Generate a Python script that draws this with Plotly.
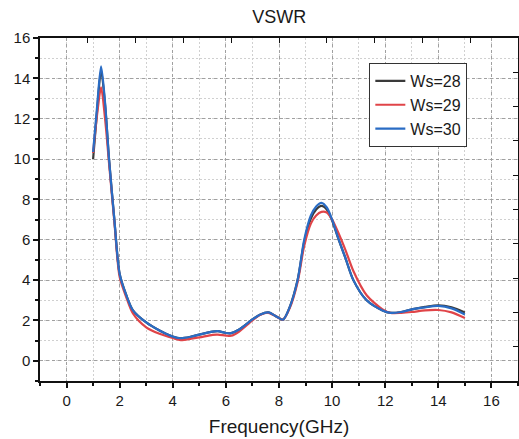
import plotly.graph_objects as go

freq = [1.0, 1.15, 1.3, 1.45, 1.6, 1.8, 2.0, 2.25, 2.5, 3.0, 3.5, 4.0, 4.3, 4.7, 5.0,
        5.5, 5.7, 6.0, 6.2, 6.5, 7.0, 7.3, 7.6, 7.9, 8.15, 8.4, 8.7, 8.95, 9.2, 9.4,
        9.6, 9.8, 10.0, 10.25, 10.5, 10.8, 11.3, 11.9, 12.2, 12.6, 13.0, 13.5, 14.0,
        14.5, 15.0]

ws28 = [10.0, 12.4, 14.4, 12.7, 10.0, 7.0, 4.3, 3.25, 2.5, 1.9, 1.5, 1.2, 1.12, 1.2, 1.3,
        1.45, 1.47, 1.38, 1.37, 1.55, 2.05, 2.3, 2.4, 2.2, 2.04, 2.65, 4.0, 5.9, 7.05, 7.5,
        7.68, 7.5, 6.95, 6.0, 5.1, 4.0, 3.0, 2.5, 2.38, 2.42, 2.55, 2.67, 2.75, 2.65, 2.4]

ws29 = [10.3, 12.2, 13.55, 12.0, 9.8, 6.9, 4.15, 3.15, 2.35, 1.66, 1.34, 1.13, 1.03, 1.1, 1.16,
        1.29, 1.3, 1.25, 1.24, 1.45, 2.0, 2.28, 2.38, 2.2, 2.04, 2.6, 3.9, 5.7, 6.8, 7.2,
        7.38, 7.35, 7.0, 6.3, 5.5, 4.45, 3.25, 2.55, 2.38, 2.38, 2.42, 2.5, 2.52, 2.4, 2.12]

ws30 = [10.35, 12.6, 14.6, 12.8, 10.0, 7.0, 4.3, 3.25, 2.5, 1.9, 1.5, 1.2, 1.12, 1.2, 1.3,
        1.45, 1.47, 1.38, 1.37, 1.55, 2.05, 2.3, 2.4, 2.2, 2.04, 2.65, 4.0, 6.0, 7.2, 7.65,
        7.83, 7.6, 7.0, 6.0, 5.1, 4.0, 3.0, 2.5, 2.38, 2.42, 2.55, 2.65, 2.72, 2.6, 2.3]

series = [("Ws=28", ws28, "#3a3a3a"), ("Ws=29", ws29, "#e04448"), ("Ws=30", ws30, "#2a6cc4")]

x_ticks = [0, 2, 4, 6, 8, 10, 12, 14, 16]
y_ticks = [0, 2, 4, 6, 8, 10, 12, 14, 16]

fig = go.Figure()
for name, vals, color in series:
    fig.add_trace(go.Scatter(x=freq, y=vals, name=name, mode="lines",
                             line=dict(color=color, width=2.2, shape="spline", smoothing=0.8)))

# dummy trace for top/right frame axes
fig.add_trace(go.Scatter(x=[], y=[], xaxis="x2", yaxis="y2", showlegend=False, hoverinfo="skip"))

font = "Arial, Liberation Sans, sans-serif"
grid_major = "#a0a0a0"
grid_minor = "#d0d0d0"

fig.update_layout(
    width=519, height=439,
    margin=dict(l=40, r=1, t=38, b=58, autoexpand=False),
    paper_bgcolor="white", plot_bgcolor="white",
    font=dict(family=font, color="#1a1a1a"),
    title=dict(text="VSWR", x=0.538, xanchor="center", y=0.962, yanchor="middle",
               font=dict(size=18, color="#1a1a1a"), automargin=False),
    showlegend=True,
    legend=dict(x=0.894, xanchor="right", y=0.927, yanchor="top",
                bgcolor="white", bordercolor="#333333", borderwidth=1,
                font=dict(size=16, color="#1a1a1a"), tracegroupgap=0,
                itemwidth=30),
    xaxis=dict(range=[-1, 17], tickvals=x_ticks, ticks="outside", ticklen=5, tickwidth=1.5,
               tickcolor="#111111", showline=True, linecolor="#111111", linewidth=1.5,
               showgrid=True, gridcolor=grid_major, griddash="3px,3px", gridwidth=1,
               zeroline=False, tickfont=dict(size=15), automargin=False,
               minor=dict(dtick=1, tick0=1, ticks="outside", ticklen=3, tickcolor="#111111",
                          showgrid=True, gridcolor=grid_minor, griddash="2px,2px"),
               title=dict(text="Frequency(GHz)", font=dict(size=19), standoff=12)),
    yaxis=dict(range=[-1, 16], tickvals=y_ticks, ticks="outside", ticklen=5, tickwidth=1.5,
               tickcolor="#111111", showline=True, linecolor="#111111", linewidth=1.5,
               showgrid=True, gridcolor=grid_major, griddash="3px,3px", gridwidth=1,
               zeroline=False, tickfont=dict(size=15), automargin=False,
               minor=dict(dtick=1, tick0=1, ticks="outside", ticklen=3, tickcolor="#111111",
                          showgrid=True, gridcolor=grid_minor, griddash="2px,2px")),
    xaxis2=dict(overlaying="x", side="top", range=[0, 10], dtick=1, ticks="inside", ticklen=5,
                tickcolor="#111111", showline=True, linecolor="#111111", linewidth=1.5,
                showticklabels=False, showgrid=False, zeroline=False, automargin=False),
    yaxis2=dict(overlaying="y", side="right", range=[0, 10], dtick=1, ticks="inside", ticklen=5,
                tickcolor="#111111", showline=True, linecolor="#111111", linewidth=1.5,
                showticklabels=False, showgrid=False, zeroline=False, automargin=False),
)

fig.write_html("out.html", config={"displayModeBar": False},
               post_script="document.body.style.margin='0';document.body.style.overflow='hidden';")
